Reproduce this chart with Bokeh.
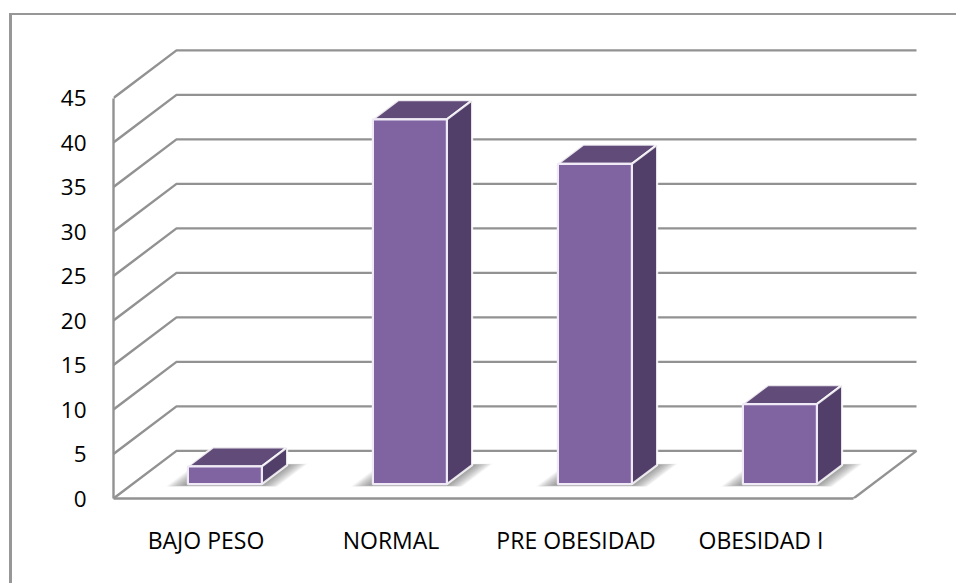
from bokeh.embed import file_html
from bokeh.models import FixedTicker, LinearAxis, Range1d
from bokeh.plotting import figure
from bokeh.resources import INLINE

categories = ["BAJO PESO", "NORMAL", "PRE OBESIDAD", "OBESIDAD I"]
values = [2, 41, 36, 9]
y_ticks = [0, 5, 10, 15, 20, 25, 30, 35, 40, 45]

# Oblique projection: one unit of depth moves a point right and up in data units.
DEPTH_X = 0.3405
DEPTH_Y = 5.35
BAR_HALF = 0.2
BAR_NEAR = 0.3
BAR_FAR = 0.7

GRID = "#929292"
FRONT = "#8064A2"
TOP = "#614B79"
SIDE = "#523F69"
EDGE = "#EFEAF5"
FONT = "Open Sans"


def project(x, v, d):
    return x + d * DEPTH_X, v + d * DEPTH_Y


def poly(points):
    pts = [project(*pt) for pt in points]
    return [a for a, _ in pts], [b for _, b in pts]


PX_PER_CAT = 185
PX_PER_VAL = 8.9
MARGIN_TOP = 13
MARGIN_LEFT = 9
BORDER_TOP = 2
BORDER_LEFT = 3
AXIS_X = 113
FLOOR_Y = 498

p = figure(
    width=956 - MARGIN_LEFT, height=583 - MARGIN_TOP,
    output_backend="svg", toolbar_location=None,
    x_range=Range1d(0, (956 - AXIS_X) / PX_PER_CAT),
    y_range=Range1d(0, (FLOOR_Y - MARGIN_TOP - BORDER_TOP) / PX_PER_VAL),
    x_axis_location=None, y_axis_location=None,
    min_border_left=AXIS_X - MARGIN_LEFT - BORDER_LEFT, min_border_right=BORDER_LEFT,
    min_border_top=0, min_border_bottom=583 - FLOOR_Y + BORDER_TOP,
    background_fill_color="white", border_fill_color="white", outline_line_color=None,
    margin=(MARGIN_TOP, 0, 0, MARGIN_LEFT),
    styles={
        "border-top": f"{BORDER_TOP}px solid #979797",
        "border-left": f"{BORDER_LEFT}px solid #979797",
    },
)
p.grid.visible = False

# Back wall lines and the slanted side-wall lines.
for t in y_ticks:
    xs, ys = poly([(0, t, 0), (0, t, 1), (4, t, 1)])
    p.line(xs, ys, line_color=GRID, line_width=2.4)

# Right edge of the floor.
xs, ys = poly([(4, 0, 0), (4, 0, 1)])
p.line(xs, ys, line_color=GRID, line_width=2.4)

for i, v in enumerate(values):
    c = i + 0.5
    left, right = c - BAR_HALF, c + BAR_HALF

    # Soft shadow on the floor, built from stacked translucent footprints.
    for k in range(12):
        grow = 0.10 - k * 0.008
        sx, sy = poly([
            (left - grow, 0, BAR_NEAR - 0.05 + k * 0.002),
            (right + grow, 0, BAR_NEAR - 0.05 + k * 0.002),
            (right + grow, 0, BAR_FAR + 0.03 - k * 0.002),
            (left - grow, 0, BAR_FAR + 0.03 - k * 0.002),
        ])
        p.patch(sx, sy, fill_color="#444444", fill_alpha=0.055, line_color=None)

    tx, ty = poly([(left, v, BAR_NEAR), (right, v, BAR_NEAR), (right, v, BAR_FAR), (left, v, BAR_FAR)])
    p.patch(tx, ty, fill_color=TOP, line_color="white", line_width=2.2, line_alpha=0.85)
    sx, sy = poly([(right, 0, BAR_NEAR), (right, 0, BAR_FAR), (right, v, BAR_FAR), (right, v, BAR_NEAR)])
    p.patch(sx, sy, fill_color=SIDE, line_color="white", line_width=2.2, line_alpha=0.85)
    fx, fy = poly([(left, 0, BAR_NEAR), (right, 0, BAR_NEAR), (right, v, BAR_NEAR), (left, v, BAR_NEAR)])
    p.patch(fx, fy, fill_color=FRONT, line_color=EDGE, line_width=2.2)

# Front value axis and category axis.
y_axis = LinearAxis(
    ticker=FixedTicker(ticks=y_ticks), bounds=(0, 45),
    axis_line_color=GRID, axis_line_width=2.4,
    major_tick_line_color=None, minor_tick_line_color=None,
    major_label_standoff=21, major_label_text_font=FONT,
    major_label_text_font_size="22.5px", major_label_text_color="black",
)
p.add_layout(y_axis, "left")

x_axis = LinearAxis(
    ticker=FixedTicker(ticks=[i + 0.5 for i in range(len(categories))]), bounds=(0, 4),
    major_label_overrides={i + 0.5: c for i, c in enumerate(categories)},
    axis_line_color=GRID, axis_line_width=2.4,
    major_tick_line_color=None, minor_tick_line_color=None,
    major_label_standoff=19, major_label_text_font=FONT,
    major_label_text_font_size="23px", major_label_text_color="black",
)
p.add_layout(x_axis, "below")

open("out.html", "w").write(file_html(p, INLINE))
